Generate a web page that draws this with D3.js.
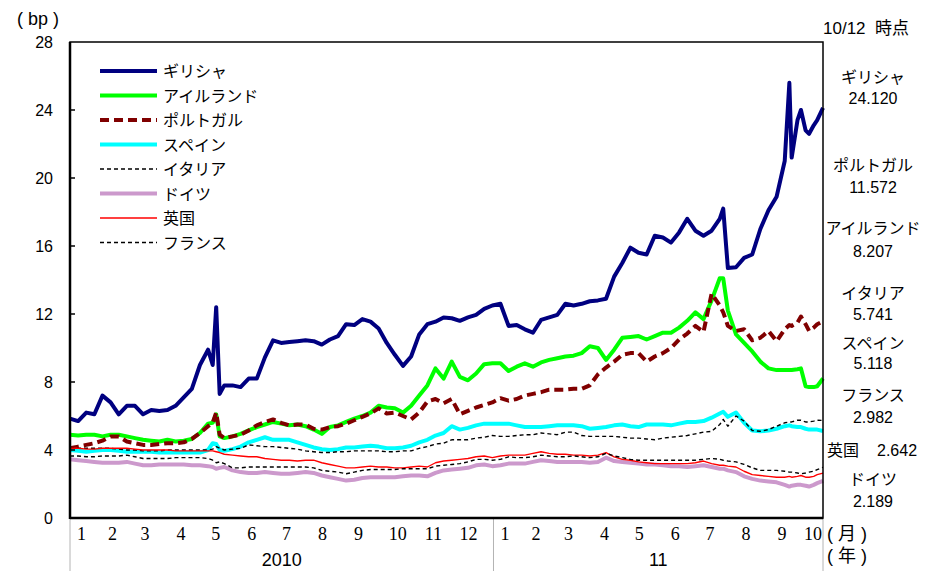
<!DOCTYPE html>
<html>
<head>
<meta charset="utf-8">
<script src="https://cdn.jsdelivr.net/npm/d3@7"></script>
<style>
  body { margin: 0; background: #fff; }
  svg { display: block; }
  text { font-family: "Liberation Sans", "Noto Sans CJK JP", sans-serif; fill: #000; }
</style>
</head>
<body>
<svg id="chart" width="944" height="571"></svg>
<script>
// observation dates (weekly, plus a few extra days around the spikes)
const dates = [
  "2010-01-01","2010-01-08","2010-01-15","2010-01-22","2010-01-29",
  "2010-02-05","2010-02-12","2010-02-19","2010-02-26",
  "2010-03-05","2010-03-12","2010-03-19","2010-03-26",
  "2010-04-02","2010-04-09","2010-04-16","2010-04-23","2010-04-30",
  "2010-05-04","2010-05-07","2010-05-10","2010-05-14","2010-05-21","2010-05-28",
  "2010-06-04","2010-06-11","2010-06-18","2010-06-25",
  "2010-07-02","2010-07-09","2010-07-16","2010-07-23","2010-07-30",
  "2010-08-06","2010-08-13","2010-08-20","2010-08-27",
  "2010-09-03","2010-09-10","2010-09-17","2010-09-24",
  "2010-10-01","2010-10-08","2010-10-15","2010-10-22","2010-10-29",
  "2010-11-05","2010-11-12","2010-11-19","2010-11-26",
  "2010-12-03","2010-12-10","2010-12-17","2010-12-24","2010-12-31",
  "2011-01-07","2011-01-14","2011-01-21","2011-01-28",
  "2011-02-04","2011-02-11","2011-02-18","2011-02-25",
  "2011-03-04","2011-03-11","2011-03-18","2011-03-25",
  "2011-04-01","2011-04-08","2011-04-15","2011-04-22","2011-04-29",
  "2011-05-06","2011-05-13","2011-05-20","2011-05-27",
  "2011-06-03","2011-06-10","2011-06-17","2011-06-24",
  "2011-07-01","2011-07-08","2011-07-15","2011-07-18","2011-07-22","2011-07-29",
  "2011-08-05","2011-08-12","2011-08-19","2011-08-26",
  "2011-09-02","2011-09-09","2011-09-13","2011-09-15","2011-09-20","2011-09-23","2011-09-27","2011-09-30",
  "2011-10-04","2011-10-07","2011-10-12"
]

const greece = [
  5.85, 5.7, 6.2, 6.1, 7.2,   6.8, 6.1, 6.6, 6.6,   6.1, 6.35, 6.3, 6.35,
  6.6, 7.1, 7.6, 9.0, 9.9,   9.0, 12.4, 7.3, 7.8, 7.8, 7.7,   8.2, 8.2, 9.45, 10.45,
  10.3, 10.35, 10.4, 10.45, 10.4,   10.2, 10.5, 10.7, 11.4,   11.35, 11.7, 11.55, 11.15,
  10.3, 9.6, 8.95, 9.5, 10.8,   11.4, 11.55, 11.8, 11.75,   11.6, 11.8, 11.95, 12.3, 12.5,
  12.6, 11.3, 11.35, 11.1,   10.9, 11.65, 11.8, 11.95,   12.6, 12.5, 12.6, 12.75,
  12.8, 12.9, 14.2, 15.0, 15.9,   15.6, 15.5, 16.6, 16.5,   16.2, 16.8, 17.6, 16.9,
  16.6, 16.9, 17.6, 18.2, 14.7, 14.75,   15.3, 15.5, 17.0, 18.1,
  18.9, 21.0, 25.6, 21.2, 23.4, 24.0, 22.8, 22.6,   23.1, 23.4, 24.12
]
const ireland = [
  4.9, 4.85, 4.9, 4.9, 4.8,   4.9, 4.9, 4.8, 4.7,   4.6, 4.55, 4.5, 4.6,
  4.5, 4.55, 4.65, 5.0, 5.55,   5.6, 6.1, 4.8, 4.7, 4.8, 4.95,   5.15, 5.35, 5.5, 5.65,
  5.55, 5.45, 5.5, 5.4, 5.2,   4.95, 5.35, 5.45, 5.65,   5.85, 6.0, 6.2, 6.6,
  6.5, 6.45, 6.2, 6.6, 7.2,   7.8, 8.8, 8.2, 9.2,   8.3, 8.1, 8.5, 9.05, 9.1,
  9.1, 8.65, 8.9, 9.1,   8.9, 9.15, 9.3, 9.4,   9.5, 9.55, 9.7, 10.1,
  10.0, 9.3, 9.9, 10.6, 10.65,   10.7, 10.5, 10.7, 10.9,   10.9, 11.2, 11.6, 12.1,
  11.7, 12.8, 14.1, 14.1, 12.2, 10.8,   10.3, 9.8, 9.2, 8.8,
  8.7, 8.7, 8.7, 8.7, 8.75, 8.8, 7.75, 7.7,   7.7, 7.75, 8.207
]
const portugal = [
  4.1, 4.2, 4.3, 4.4, 4.55,   4.8, 4.8, 4.5, 4.4,   4.3, 4.3, 4.35, 4.4,
  4.4, 4.45, 4.65, 5.0, 5.4,   5.6, 6.2, 4.9, 4.7, 4.8, 4.9,   5.15, 5.45, 5.65, 5.8,
  5.6, 5.45, 5.5, 5.5, 5.25,   5.2, 5.35, 5.4, 5.55,   5.75, 5.95, 6.15, 6.45,
  6.15, 6.2, 6.0, 5.8, 6.2,   6.85, 7.0, 6.75, 7.0,   6.1, 6.3, 6.5, 6.65, 6.8,
  7.05, 6.9, 7.0, 7.2,   7.3, 7.4, 7.55, 7.55,   7.55, 7.6, 7.6, 7.8,
  8.45, 8.85, 9.2, 9.6, 9.7,   9.7, 9.2, 9.5, 9.7,   10.0, 10.5, 10.85, 11.3,
  10.95, 13.2, 12.5, 12.1, 11.3, 11.0,   11.1, 10.45, 10.6, 11.0,
  10.4, 11.1, 11.35, 11.3, 11.5, 11.85, 11.4, 11.0,   11.2, 11.4, 11.572
]
const spain = [
  4.0, 3.95, 3.9, 3.95, 4.0,   4.0, 3.95, 3.9, 3.9,   3.9, 3.9, 3.85, 3.85,
  3.85, 3.85, 3.85, 3.85, 4.0,   4.4, 4.35, 4.0, 3.95, 4.05, 4.2,   4.45, 4.6, 4.75, 4.6,
  4.6, 4.6, 4.45, 4.3, 4.15,   4.05, 4.0, 4.05, 4.15,   4.15, 4.2, 4.25, 4.2,
  4.1, 4.1, 4.15, 4.25, 4.45,   4.6, 4.85, 5.0, 5.4,   5.2, 5.3, 5.45, 5.55, 5.55,
  5.55, 5.55, 5.45, 5.35,   5.35, 5.35, 5.4, 5.45,   5.45, 5.45, 5.4, 5.25,
  5.3, 5.35, 5.45, 5.5, 5.4,   5.35, 5.5, 5.5, 5.5,   5.45, 5.55, 5.65, 5.65,
  5.7, 5.9, 6.15, 6.25, 5.95, 6.2,   5.6, 5.15, 5.1, 5.15,
  5.25, 5.4, 5.45, 5.4, 5.35, 5.35, 5.25, 5.2,   5.2, 5.2, 5.118
]
const italy = [
  4.1, 4.1, 4.1, 4.1, 4.1,   4.1, 4.05, 4.0, 4.0,   3.95, 3.95, 3.95, 4.0,
  4.0, 4.0, 4.0, 4.0, 4.0,   4.05, 4.2, 4.1, 4.0, 4.05, 4.1,   4.3, 4.25, 4.2, 4.2,
  4.15, 4.1, 4.05, 3.95, 3.9,   3.85, 3.85, 3.9, 3.9,   3.95, 3.95, 3.95, 3.95,
  3.9, 3.9, 3.95, 3.95, 4.1,   4.2, 4.35, 4.4, 4.6,   4.6, 4.6, 4.7, 4.75, 4.85,
  4.8, 4.8, 4.85, 4.9,   4.9, 5.0, 4.95, 4.9,   5.05, 5.05, 4.85, 4.8,
  4.8, 4.8, 4.8, 4.75, 4.7,   4.7, 4.65, 4.6, 4.7,   4.75, 4.8, 4.85, 4.95,
  5.05, 5.1, 5.5, 5.8, 5.4, 6.0,   5.7, 5.15, 5.1, 5.2,
  5.4, 5.6, 5.65, 5.65, 5.75, 5.75, 5.65, 5.65,   5.7, 5.75, 5.741
]
const germany = [
  3.45, 3.4, 3.35, 3.3, 3.25,   3.25, 3.25, 3.3, 3.2,   3.1, 3.1, 3.15, 3.15,
  3.15, 3.15, 3.1, 3.1, 3.05,   3.0, 2.9, 2.95, 3.0, 2.8, 2.7,   2.65, 2.65, 2.7, 2.65,
  2.6, 2.6, 2.65, 2.7, 2.65,   2.5, 2.4, 2.3, 2.2,   2.25, 2.35, 2.4, 2.4,
  2.4, 2.4, 2.45, 2.5, 2.5,   2.45, 2.65, 2.8, 2.85,   2.9, 2.95, 3.1, 3.15, 3.05,
  3.1, 3.2, 3.2, 3.2,   3.3, 3.4, 3.35, 3.3,   3.3, 3.3, 3.3, 3.25,
  3.3, 3.55, 3.35, 3.3, 3.25,   3.2, 3.15, 3.15, 3.1,   3.05, 3.05, 3.0, 3.05,
  3.1, 3.0, 2.9, 2.9, 2.8, 2.7,   2.45, 2.3, 2.2, 2.15,
  2.1, 1.95, 1.85, 1.9, 1.95, 1.95, 1.9, 1.85,   1.95, 2.05, 2.189
]
const uk = [
  4.1, 4.1, 4.05, 4.05, 4.1,   4.1, 4.1, 4.1, 4.05,   4.0, 4.0, 4.0, 4.0,
  3.95, 3.95, 3.95, 3.95, 3.95,   3.95, 3.9, 3.85, 3.75, 3.7, 3.65,   3.6, 3.6, 3.5, 3.45,
  3.4, 3.4, 3.35, 3.4, 3.4,   3.25, 3.15, 3.05, 2.95,   2.95, 3.0, 3.05, 3.0,
  3.0, 2.95, 2.95, 3.0, 3.05,   3.0, 3.25, 3.35, 3.4,   3.45, 3.5, 3.6, 3.65, 3.55,
  3.65, 3.7, 3.7, 3.7,   3.8, 3.9, 3.8, 3.75,   3.75, 3.7, 3.7, 3.65,
  3.7, 3.85, 3.6, 3.45, 3.4,   3.3, 3.25, 3.2, 3.2,   3.2, 3.2, 3.2, 3.25,
  3.35, 3.2, 3.1, 3.1, 3.05, 3.0,   2.75, 2.55, 2.5, 2.45,
  2.4, 2.4, 2.45, 2.4, 2.45, 2.5, 2.4, 2.4,   2.45, 2.55, 2.642
]
const france = [
  3.65, 3.65, 3.6, 3.6, 3.65,   3.65, 3.65, 3.7, 3.6,   3.5, 3.5, 3.5, 3.5,
  3.55, 3.55, 3.55, 3.55, 3.5,   3.4, 3.25, 3.3, 3.2, 2.95, 2.95,   3.0, 3.0, 3.0, 3.0,
  3.0, 3.0, 3.0, 3.0, 2.95,   2.8, 2.75, 2.7, 2.6,   2.7, 2.8, 2.85, 2.85,
  2.85, 2.85, 2.9, 2.9, 2.9,   2.9, 3.05, 3.1, 3.15,   3.2, 3.3, 3.45, 3.45, 3.4,
  3.45, 3.6, 3.55, 3.55,   3.6, 3.7, 3.65, 3.6,   3.6, 3.65, 3.6, 3.55,
  3.6, 3.8, 3.65, 3.55, 3.45,   3.4, 3.4, 3.4, 3.4,   3.4, 3.4, 3.4, 3.4,
  3.45, 3.5, 3.45, 3.4, 3.35, 3.3,   3.15, 2.95, 2.8, 2.8,
  2.8, 2.75, 2.7, 2.7, 2.65, 2.6, 2.65, 2.7,   2.75, 2.85, 2.982
]

const seriesNames = ["ギリシャ", "アイルランド", "ポルトガル", "スペイン", "イタリア", "ドイツ", "英国", "フランス"]
const seriesValues = [greece, ireland, portugal, spain, italy, germany, uk, france]
const monthLabels = ["1","2","3","4","5","6","7","8","9","10","11","12","1","2","3","4","5","6","7","8","9","10"]
const yearLabels = ["2010", "11"]
const yTicks = [0, 4, 8, 12, 16, 20, 24, 28]

// line styles, in series order
const styles = [
  { color: "#000080", width: 4, dash: null },
  { color: "#00ff00", width: 4, dash: null },
  { color: "#800000", width: 4, dash: "9,5" },
  { color: "#00ffff", width: 4, dash: null },
  { color: "#000000", width: 1.4, dash: "4,3" },
  { color: "#cc99cc", width: 4, dash: null },
  { color: "#ff0000", width: 1.4, dash: null },
  { color: "#000000", width: 1.4, dash: "4,3" }
]

const svg = d3.select('#chart')
const plotL = 70, plotR = 823, plotT = 42, plotB = 518
const parse = d3.timeParse('%Y-%m-%d')
const start = parse('2010-01-01'), end = parse('2011-10-12')

const x = d3.scaleTime().domain([start, end]).range([plotL, plotR])
const y = d3.scaleLinear().domain([0, 28]).range([plotB, plotT])

const series = seriesNames.map((name, i) => ({
  name: name,
  style: styles[i],
  points: dates.map((d, j) => ({ date: parse(d), v: seriesValues[i][j] }))
}))

// separators under the x axis
svg.append('g').selectAll('line')
  .data([start, parse('2011-01-01'), end]).join('line')
  .attr('x1', d => x(d)).attr('x2', d => x(d))
  .attr('y1', plotB).attr('y2', 571)
  .attr('stroke', '#b4b4b4').attr('stroke-width', 1)

// lines
const line = d3.line()
  .defined(d => d.v != null)
  .x(d => x(d.date))
  .y(d => y(d.v))

svg.append('g').selectAll('path')
  .data(series).join('path')
  .attr('d', d => line(d.points))
  .attr('fill', 'none')
  .attr('stroke', d => d.style.color)
  .attr('stroke-width', d => d.style.width)
  .attr('stroke-dasharray', d => d.style.dash)
  .attr('stroke-linejoin', 'round')

// frame
svg.append('rect')
  .attr('x', plotL).attr('y', plotT)
  .attr('width', plotR - plotL).attr('height', plotB - plotT)
  .attr('fill', 'none').attr('stroke', '#000').attr('stroke-width', 1.5)
svg.append('line').attr('x1', plotL).attr('x2', plotL).attr('y1', plotT).attr('y2', plotB + 1)
  .attr('stroke', '#000').attr('stroke-width', 2.5)
svg.append('line').attr('x1', plotL).attr('x2', plotR).attr('y1', plotB).attr('y2', plotB)
  .attr('stroke', '#000').attr('stroke-width', 2.5)

// y axis: inward ticks, labels on the left
const yAxis = svg.append('g')
yAxis.selectAll('line')
  .data(yTicks.slice(1, -1)).join('line')
  .attr('x1', plotL).attr('x2', plotL + 5)
  .attr('y1', d => y(d)).attr('y2', d => y(d))
  .attr('stroke', '#000').attr('stroke-width', 1.5)
yAxis.selectAll('text')
  .data(yTicks).join('text')
  .attr('x', 53).attr('y', d => y(d) + 6)
  .attr('text-anchor', 'end')
  .style('font-size', '16px')
  .text(d => d)

svg.append('text').attr('x', 17).attr('y', 25)
  .style('font-size', '18px').text('( bp )')

// month labels
const months = d3.timeMonth.range(start, end)
svg.append('g').selectAll('text')
  .data(months).join('text')
  .attr('x', d => x(d) + (d.getMonth() === 0 ? 7 : 2))
  .attr('y', 540)
  .style('font-family', '"Liberation Serif", serif')
  .style('font-size', '18px')
  .text((d, i) => monthLabels[i])
  .each(function () {
    const w = this.getComputedTextLength()
    const lx = +this.getAttribute('x')
    if (lx + w > plotR - 1) this.setAttribute('x', plotR - 1 - w)
  })

// year labels
const yearSpans = [[start, parse('2011-01-01')], [parse('2011-01-01'), end]]
svg.append('g').selectAll('text')
  .data(yearSpans).join('text')
  .attr('x', d => (x(d[0]) + x(d[1])) / 2)
  .attr('y', 566)
  .attr('text-anchor', 'middle')
  .style('font-size', '18px')
  .text((d, i) => yearLabels[i])

svg.append('text').attr('x', 827).attr('y', 540).style('font-size', '18px').text('( 月 )')
svg.append('text').attr('x', 827).attr('y', 562).style('font-size', '18px').text('( 年 )')

// legend
const legend = svg.append('g').selectAll('g')
  .data(series).join('g')
  .attr('transform', (d, i) => `translate(100,${71 + i * 24.5})`)
legend.append('line')
  .attr('x1', 0).attr('x2', 57)
  .attr('stroke', d => d.style.color)
  .attr('stroke-width', d => d.style.width)
  .attr('stroke-dasharray', d => d.style.dash)
legend.append('text')
  .attr('x', 63).attr('y', 6)
  .style('font-size', '16px')
  .text(d => d.name)

// latest values on the right, ranked by value
svg.append('text').attr('x', 823).attr('y', 34)
  .style('font-size', '17px').style('white-space', 'pre')
  .text('10/12  時点')

const fmt = d3.format('.3f')
const ranked = series.slice().sort((a, b) => b.points[b.points.length - 1].v - a.points[a.points.length - 1].v)
const slots = [[76.5, 97.5], [164.5, 186.5], [227.5, 250.5], [292.5, 313.5], [342.5, 362.5], [394.5, 416.5], [449.5], [478.5, 500.5]]
const side = svg.append('g').style('font-size', '16px')
ranked.forEach((s, i) => {
  const last = fmt(s.points[s.points.length - 1].v)
  const slot = slots[i]
  if (slot.length === 1) {
    side.append('text').attr('x', 827).attr('y', slot[0] + 6).text(s.name)
    side.append('text').attr('x', 877).attr('y', slot[0] + 6).text(last)
  } else {
    side.append('text').attr('x', 873).attr('y', slot[0] + 6).attr('text-anchor', 'middle').text(s.name)
    side.append('text').attr('x', 873).attr('y', slot[1] + 6).attr('text-anchor', 'middle').text(last)
  }
})
</script>
</body>
</html>
